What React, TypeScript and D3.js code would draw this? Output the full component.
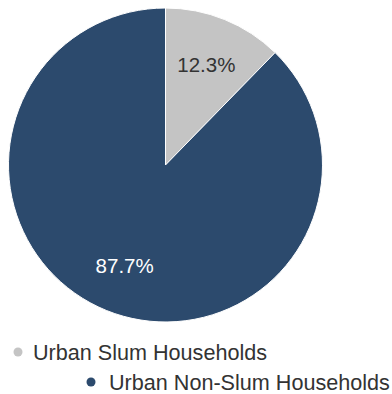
import React from "react";
import * as d3 from "d3";

const categories = ["Urban Slum Households", "Urban Non-Slum Households"];
const values = [12.3, 87.7];
const labels = ["12.3%", "87.7%"];
const colors = ["#c4c4c4", "#2c4a6d"];
const labelColors = ["#333333", "#ffffff"];

export default function App() {
  const W = 392, H = 394;
  const cx = 165.5, cy = 165, R = 157;
  const pie = d3.pie<number>().sort(null).value((d) => d)(values);
  const arc = d3.arc<d3.PieArcDatum<number>>().innerRadius(0).outerRadius(R);
  const labelArc = d3.arc<d3.PieArcDatum<number>>().innerRadius(R * 0.69).outerRadius(R * 0.69);
  const legendPos = [
    { x: 18, y: 352, tx: 33 },
    { x: 91, y: 382, tx: 109 },
  ];
  return (
    <svg width={W} height={H} style={{ position: "absolute", left: 0, top: 0, background: "#fff" }}
      fontFamily="'Liberation Sans', Arial, sans-serif">
      <g transform={`translate(${cx},${cy})`}>
        {pie.map((p, i) => (
          <path key={i} d={arc(p) || ""} fill={colors[i]} stroke="#fff" strokeWidth={1} />
        ))}
        {pie.map((p, i) => {
          const [x, y] = labelArc.centroid(p);
          return (
            <text key={i} x={x} y={y} textAnchor="middle" dominantBaseline="central"
              fontSize={20.5} fill={labelColors[i]}>
              {labels[i]}
            </text>
          );
        })}
      </g>
      {categories.map((c, i) => (
        <g key={c}>
          <circle cx={legendPos[i].x} cy={legendPos[i].y} r={4.5} fill={colors[i]} />
          <text x={legendPos[i].tx} y={legendPos[i].y} dominantBaseline="central" fontSize={21.6} fill="#333">
            {c}
          </text>
        </g>
      ))}
    </svg>
  );
}
